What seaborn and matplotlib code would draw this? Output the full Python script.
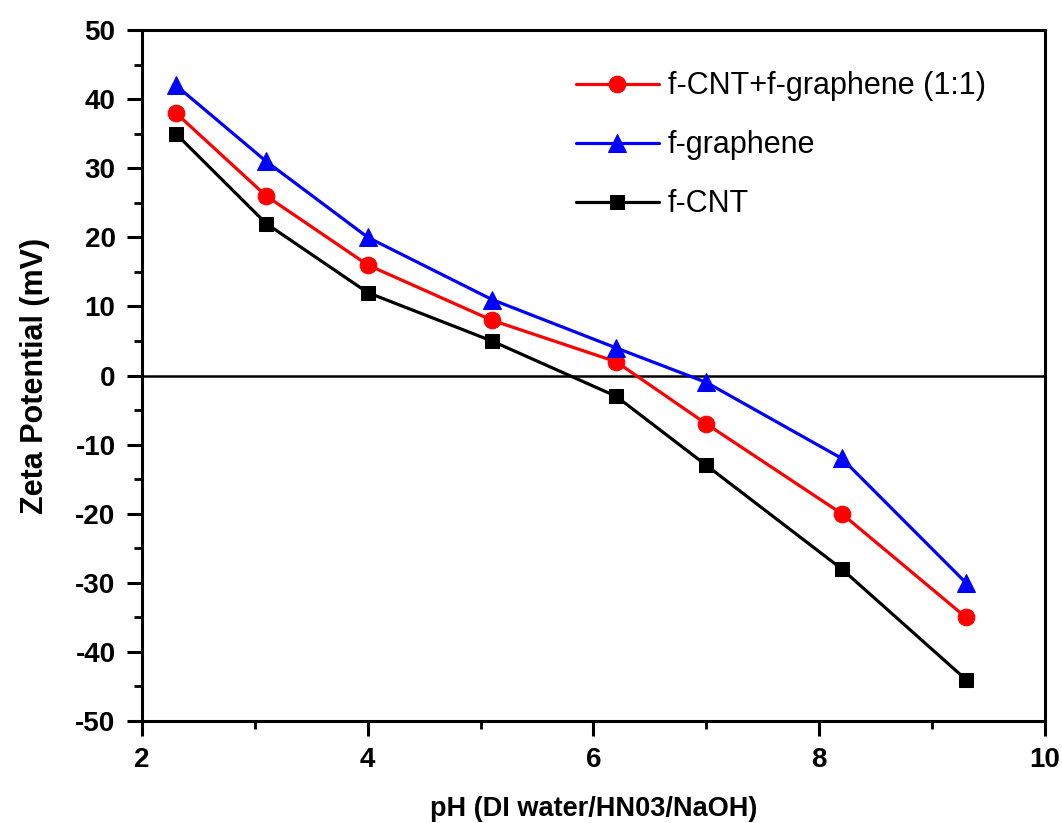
import numpy as np
import pandas as pd
import seaborn as sns
import matplotlib.pyplot as plt
from matplotlib.ticker import MultipleLocator

# --------------------------
# data
# --------------------------
ph = [2.3, 3.1, 4.0, 5.1, 6.2, 7.0, 8.2, 9.3]
zeta_mix = [38, 26, 16, 8, 2, -7, -20, -35]        # f-CNT+f-graphene (1:1)
zeta_graphene = [42, 31, 20, 11, 4, -1, -12, -30]  # f-graphene
zeta_cnt = [35, 22, 12, 5, -3, -13, -28, -44]      # f-CNT

series_names = ['f-CNT+f-graphene (1:1)', 'f-graphene', 'f-CNT']
series_vals = [zeta_mix, zeta_graphene, zeta_cnt]
colors = ['#ff0000', '#0000ff', '#000000']
markers = ['o', '^', 's']
msizes = [12, 12.5, 10]

sns.set_style("ticks")
plt.rcParams['font.family'] = ['Liberation Sans', 'DejaVu Sans']
plt.rcParams['axes.unicode_minus'] = False
plt.rcParams['text.color'] = 'black'
plt.rcParams['axes.labelcolor'] = 'black'
plt.rcParams['xtick.color'] = 'black'
plt.rcParams['ytick.color'] = 'black'

fig = plt.figure(figsize=(10.62, 8.23), dpi=100)
ax = fig.add_axes([0.1337, 0.1239, 0.8503, 0.8396])

# zero line
ax.axhline(0, color='black', lw=1.8, zorder=1)

for name, vals, c, m, ms in zip(series_names, series_vals, colors, markers, msizes):
    df = pd.DataFrame({'pH': ph, 'zeta': vals})
    sns.lineplot(data=df, x='pH', y='zeta', ax=ax, color=c, marker=m,
                 markersize=ms, markeredgecolor=c, linewidth=2.3, label=name,
                 zorder=3)

ax.set_xlim(2, 10)
ax.set_ylim(-50, 50)
ax.xaxis.set_major_locator(MultipleLocator(2))
ax.xaxis.set_minor_locator(MultipleLocator(1))
ax.yaxis.set_major_locator(MultipleLocator(10))
ax.yaxis.set_minor_locator(MultipleLocator(5))

ax.tick_params(which='major', direction='out', length=11, width=2.2,
               labelsize=20, pad=8)
ax.tick_params(which='minor', direction='out', length=6, width=2.0)
for lab in ax.get_xticklabels() + ax.get_yticklabels():
    lab.set_fontweight('bold')
for sp in ax.spines.values():
    sp.set_linewidth(2.2)
    sp.set_color('black')

ax.set_xlabel("pH (DI water/HN03/NaOH)", fontsize=19.5, fontweight='bold', labelpad=16)
ax.set_ylabel("Zeta Potential (mV)", fontsize=22, fontweight='bold', labelpad=18)

ax.legend(loc='upper right', bbox_to_anchor=(0.965, 0.98), frameon=False,
          fontsize=22, handlelength=2.7, handletextpad=0.3, labelspacing=0.95)

fig.savefig("out.png", dpi=100)
